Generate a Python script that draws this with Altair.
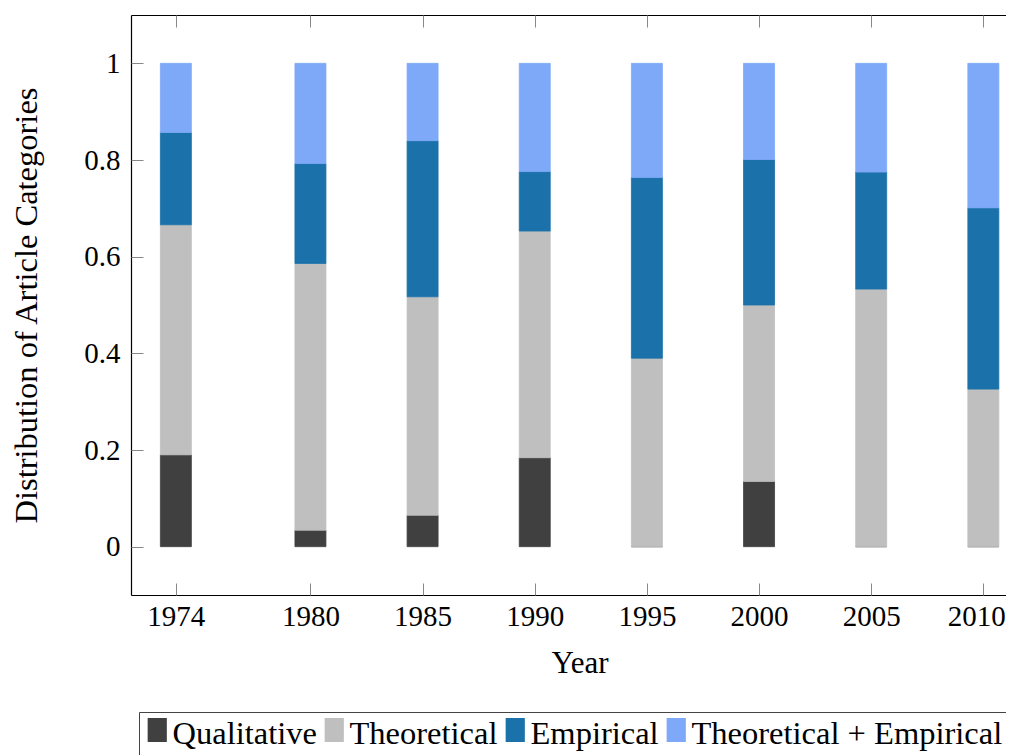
import altair as alt
import pandas as pd

# ---- data ----
years = [1974, 1980, 1985, 1990, 1995, 2000, 2005, 2010]
categories = ["Qualitative", "Theoretical", "Empirical", "Theoretical + Empirical"]
qualitative = [0.190, 0.034, 0.065, 0.184, 0.000, 0.135, 0.000, 0.000]
theoretical = [0.476, 0.552, 0.452, 0.469, 0.390, 0.365, 0.533, 0.326]
empirical = [0.191, 0.207, 0.323, 0.123, 0.374, 0.301, 0.242, 0.375]
theo_emp = [0.143, 0.207, 0.160, 0.224, 0.236, 0.199, 0.225, 0.299]
colors = ["#404040", "#bfbfbf", "#1b71a9", "#7da9f8"]
y_ticks = [0, 0.2, 0.4, 0.6, 0.8, 1]

series = [qualitative, theoretical, empirical, theo_emp]
rows = []
for ci, (cat, vals) in enumerate(zip(categories, series)):
    for yr, v in zip(years, vals):
        rows.append({"year": yr, "category": cat, "value": v, "idx": ci})
df = pd.DataFrame(rows)

font = "Liberation Serif"
# the reference figure is cropped on its right side: the x range stops there
xscale = alt.Scale(domain=[1972, 2011.01], nice=False, zero=False, padding=0)
yscale = alt.Scale(domain=[-0.1, 1.1], nice=False, zero=False, padding=0)
cscale = alt.Scale(domain=categories, range=colors)
# same mapping, listed in reverse: its legend is kept apart and only draws the frame
sscale = alt.Scale(domain=categories[::-1], range=colors[::-1])

text_style = dict(labelFont=font, titleFont=font, labelColor="black", titleColor="black",
                  titleFontWeight="normal", grid=False)
dom = dict(domain=True, domainColor="black", domainWidth=1.2)

legend_common = dict(orient="none", legendX=8, legendY=697, direction="horizontal",
                     title=None, padding=1, clipHeight=42, symbolSize=576,
                     symbolStrokeWidth=0, symbolOffset=0, labelFont=font,
                     labelFontSize=32.5, labelOffset=0, labelLimit=0)

bars = alt.Chart(df).mark_bar(size=31, strokeWidth=0.8).encode(
    x=alt.X("year:Q", scale=xscale,
            axis=alt.Axis(orient="bottom", values=years, format="d", title="Year",
                          ticks=False, labelPadding=7,
                          labelOffset={"condition": {"test": "datum.value == 2010", "value": -7},
                                       "value": 0},
                          titleX=448.5, titleY=77, titleBaseline="alphabetic",
                          titleAlign="center",
                          labelFontSize=29, titleFontSize=31, labelFlush=False,
                          labelOverlap=False, **dom, **text_style)),
    y=alt.Y("value:Q", stack="zero", scale=yscale,
            axis=alt.Axis(orient="left", values=y_ticks, format="~g",
                          title="Distribution of Article Categories",
                          ticks=False, labelPadding=11, titlePadding=40,
                          labelFontSize=29, titleFontSize=32.5, labelFlush=False,
                          labelOverlap=False, **dom, **text_style)),
    color=alt.Color("category:N", scale=cscale,
                    legend=alt.Legend(symbolType="M-0.717,-1.333H0.883V0.667H-0.717Z",
                                      labelColor="black", columnPadding=0,
                                      **legend_common)),
    stroke=alt.Stroke("category:N", scale=sscale,
                      legend=alt.Legend(strokeColor="#444", fillColor="transparent",
                                        symbolType="square", symbolOpacity=0,
                                        labelExpr="''", columnPadding=270,
                                        **legend_common)),
    order=alt.Order("idx:Q"),
)

tick_common = dict(labels=False, domain=False, title=None, grid=False, ticks=True,
                   tickSize=12, tickColor="#888888", tickWidth=1, offset=-12)

# inward ticks on the bottom and left sides
ticks_bl = alt.Chart(df).mark_point(opacity=0).encode(
    x=alt.X("year:Q", scale=xscale, axis=alt.Axis(orient="bottom", values=years, **tick_common)),
    y=alt.Y("value:Q", scale=yscale, stack=None,
            axis=alt.Axis(orient="left", values=y_ticks, **tick_common)),
)
# top frame line
top_line = alt.Chart(df).mark_point(opacity=0).encode(
    x=alt.X("year:Q", scale=xscale,
            axis=alt.Axis(orient="top", values=years, labels=False, ticks=False, title=None,
                          grid=False, **dom)),
    y=alt.Y("value:Q", scale=yscale, stack=None, axis=None),
)
# inward ticks on the top side
ticks_t = alt.Chart(df).mark_point(opacity=0).encode(
    x=alt.X("year:Q", scale=xscale, axis=alt.Axis(orient="top", values=years, **tick_common)),
    y=alt.Y("value:Q", scale=yscale, stack=None, axis=None),
)

chart = alt.layer(bars, ticks_bl, top_line, ticks_t).resolve_axis(
    x="independent", y="independent"
).properties(
    width=875, height=580,
    autosize=alt.AutoSizeParams(type="none"),
    padding={"left": 123, "top": 7, "right": 0, "bottom": 160},
).configure_view(stroke=None).configure_axis(grid=False)

chart.save("out.html", embed_options={"renderer": "svg", "actions": False})
